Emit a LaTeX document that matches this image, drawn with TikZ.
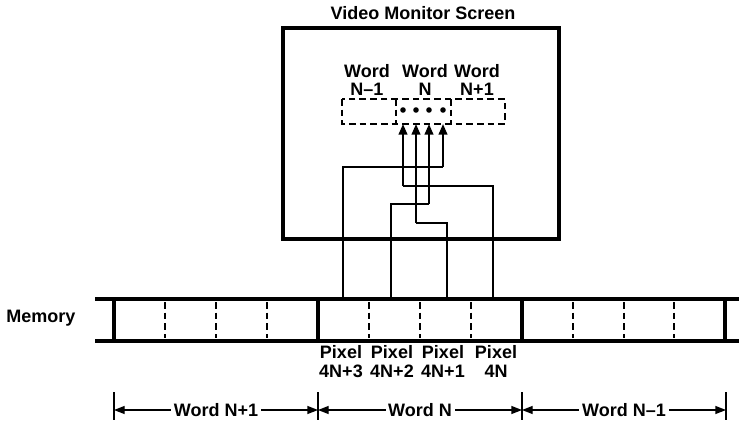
\documentclass[tikz,border=0pt]{standalone}
\usepackage{fontspec}
\setmainfont{Liberation Sans}
\usetikzlibrary{arrows.meta}
\tikzset{
  lbl/.style={font=\bfseries\fontsize{13.5}{14}\selectfont, align=center, inner sep=1pt},
  thickline/.style={line width=2.8pt},
  wire/.style={line width=1.5pt},
  dashline/.style={line width=1.5pt, dash pattern=on 5pt off 3pt},
  wordarrow/.style={line width=1.5pt, -{Triangle[length=8pt,width=6.5pt]}},
  dimline/.style={line width=1pt, {Triangle[length=8pt,width=6pt]}-{Triangle[length=8pt,width=6pt]}},
  dot/.style={circle, fill, inner sep=0pt, minimum size=4.2pt}
}
\begin{document}
\begin{tikzpicture}[x=0.75pt, y=-0.75pt]
\useasboundingbox (0,0) rectangle (739,428);
% screen
\node[lbl] (title) at (423,13) {Video Monitor Screen};
\node[lbl] (wprev) at (367,80) {Word\\N--1};
\node[lbl] (wcur) at (425,80) {Word\\N};
\node[lbl] (wnext) at (477,80) {Word\\N+1};
\draw[dashline] (342,99) rectangle (505,124);
\draw[dashline] (396,99) -- (396,124);
\draw[dashline] (451,99) -- (451,124);
\coordinate (rowbot) at (0,124);
\node[dot] (d1) at (403,110) {};
\node[dot] (d2) at (416,110) {};
\node[dot] (d3) at (429,110) {};
\node[dot] (d4) at (443,110) {};
% wires from memory to screen
\coordinate (p3) at (343,299);
\coordinate (p2) at (391,299);
\coordinate (p1) at (447,299);
\coordinate (p0) at (493,299);
\draw[wire] (p3) |- (d4 |- 0,167);
\draw[wordarrow] (d4 |- 0,167) -- (d4 |- rowbot);
\draw[wire] (p0) |- (d1 |- 0,186);
\draw[wordarrow] (d1 |- 0,186) -- (d1 |- rowbot);
\draw[wire] (p2) |- (d3 |- 0,204);
\draw[wordarrow] (d3 |- 0,204) -- (d3 |- rowbot);
\draw[wire] (p1) |- (d2 |- 0,223);
\draw[wordarrow] (d2 |- 0,223) -- (d2 |- rowbot);
\draw[thickline] (283,28) rectangle (559,239);
% memory
\node[lbl] (mem) at (41,318) {Memory};
\draw[thickline] (95,299) -- (739,299);
\draw[thickline] (95,341) -- (739,341);
\draw[thickline] (114,299) -- (114,341);
\draw[thickline] (318,299) -- (318,341);
\draw[thickline] (522,299) -- (522,341);
\draw[thickline] (725,299) -- (725,341);
\draw[dashline] (165,302) -- (165,338);
\draw[dashline] (216,302) -- (216,338);
\draw[dashline] (267,302) -- (267,338);
\draw[dashline] (369,302) -- (369,338);
\draw[dashline] (420,302) -- (420,338);
\draw[dashline] (471,302) -- (471,338);
\draw[dashline] (573,302) -- (573,338);
\draw[dashline] (624,302) -- (624,338);
\draw[dashline] (674,302) -- (674,338);
\node[lbl, anchor=north] (px3) at (341,344) {Pixel\\4N+3};
\node[lbl, anchor=north] (px2) at (392,344) {Pixel\\4N+2};
\node[lbl, anchor=north] (px1) at (443,344) {Pixel\\4N+1};
\node[lbl, anchor=north] (px0) at (496,344) {Pixel\\4N};
% word extents
\coordinate (t0) at (114,410);
\coordinate (t1) at (318,410);
\coordinate (t2) at (522,410);
\coordinate (t3) at (726,410);
\draw[line width=1pt] (114,392) -- (114,420);
\draw[line width=1pt] (318,392) -- (318,420);
\draw[line width=1pt] (522,392) -- (522,420);
\draw[line width=1pt] (726,392) -- (726,420);
\draw[dimline] (t0) -- node[lbl, fill=white, inner xsep=2pt] (ln1) {Word N+1} (t1);
\draw[dimline] (t1) -- node[lbl, fill=white, inner xsep=2pt] (ln0) {Word N} (t2);
\draw[dimline] (t2) -- node[lbl, fill=white, inner xsep=2pt] (lnm) {Word N--1} (t3);
\end{tikzpicture}
\end{document}
